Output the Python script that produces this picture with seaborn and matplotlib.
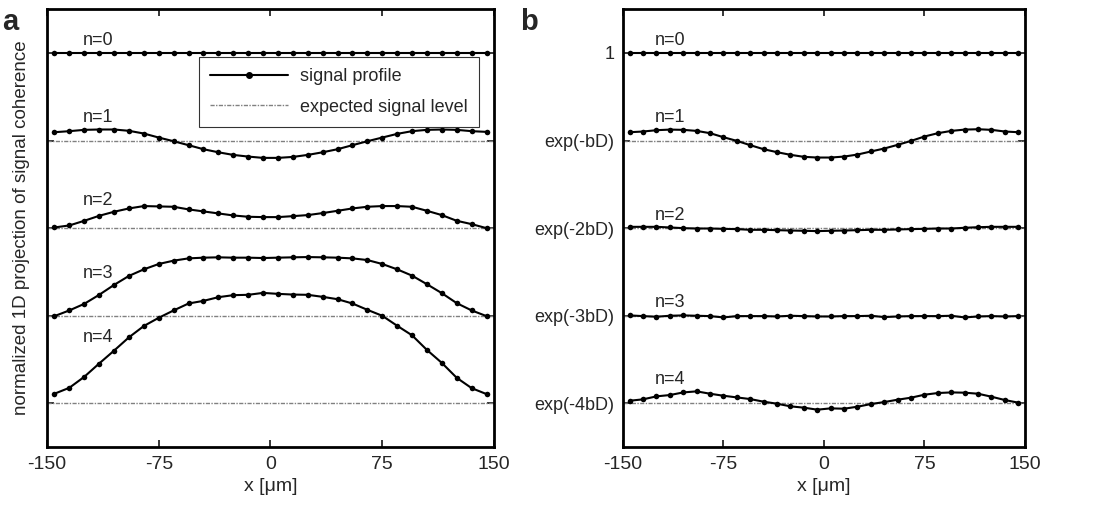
import numpy as np
import pandas as pd
import matplotlib
matplotlib.use("Agg")
import matplotlib.pyplot as plt
import seaborn as sns
from matplotlib.lines import Line2D

# sample positions along x [um]
x_um = [-145, -135, -125, -115, -105, -95, -85, -75, -65, -55,
        -45, -35, -25, -15, -5, 5, 15, 25, 35, 45,
        55, 65, 75, 85, 95, 105, 115, 125, 135, 145]

# deviation from expected level (in units of level spacing), panel a
a_n0 = [0.0, 0.0, 0.0, 0.0, 0.0, 0.0, 0.0, 0.0, 0.0, 0.0,
        0.0, 0.0, 0.0, 0.0, 0.0, 0.0, 0.0, 0.0, 0.0, 0.0,
        0.0, 0.0, 0.0, 0.0, 0.0, 0.0, 0.0, 0.0, 0.0, 0.0]
a_n1 = [0.095, 0.107, 0.122, 0.126, 0.126, 0.111, 0.080, 0.034, -0.008, -0.053,
        -0.099, -0.134, -0.164, -0.183, -0.198, -0.198, -0.187, -0.164, -0.134, -0.099,
        -0.053, -0.008, 0.034, 0.076, 0.107, 0.122, 0.126, 0.122, 0.107, 0.099]
a_n2 = [0.008, 0.031, 0.084, 0.141, 0.187, 0.225, 0.252, 0.248, 0.244, 0.214,
        0.191, 0.168, 0.145, 0.130, 0.126, 0.126, 0.137, 0.149, 0.172, 0.198,
        0.225, 0.244, 0.252, 0.252, 0.244, 0.198, 0.149, 0.084, 0.046, 0.0]
a_n3 = [-0.004, 0.061, 0.136, 0.239, 0.352, 0.455, 0.530, 0.591, 0.629, 0.655,
        0.663, 0.667, 0.663, 0.663, 0.659, 0.663, 0.667, 0.670, 0.667, 0.663,
        0.655, 0.636, 0.591, 0.530, 0.458, 0.360, 0.258, 0.144, 0.061, -0.004]
a_n4 = [0.110, 0.178, 0.303, 0.455, 0.602, 0.754, 0.883, 0.977, 1.061, 1.140,
        1.170, 1.212, 1.235, 1.239, 1.261, 1.250, 1.242, 1.239, 1.216, 1.189,
        1.140, 1.068, 1.000, 0.886, 0.777, 0.610, 0.462, 0.292, 0.174, 0.106]

# panel b
b_n0 = [0.0, 0.0, 0.0, 0.0, 0.0, 0.0, 0.0, 0.0, 0.0, 0.0,
        0.0, 0.0, 0.0, 0.0, 0.0, 0.0, 0.0, 0.0, 0.0, 0.0,
        0.0, 0.0, 0.0, 0.0, 0.0, 0.0, 0.0, 0.0, 0.0, 0.0]
b_n1 = [0.095, 0.103, 0.118, 0.125, 0.122, 0.110, 0.084, 0.038, -0.004, -0.053,
        -0.099, -0.133, -0.163, -0.186, -0.194, -0.194, -0.183, -0.160, -0.125, -0.091,
        -0.049, -0.004, 0.046, 0.084, 0.110, 0.125, 0.129, 0.122, 0.103, 0.095]
b_n2 = [0.015, 0.015, 0.015, 0.008, 0.0, -0.004, -0.004, -0.008, -0.011, -0.019,
        -0.019, -0.023, -0.027, -0.030, -0.034, -0.030, -0.027, -0.023, -0.019, -0.019,
        -0.015, -0.011, -0.008, -0.004, -0.004, 0.004, 0.011, 0.015, 0.015, 0.015]
b_n3 = [0.004, -0.004, -0.011, 0.0, 0.004, 0.0, -0.004, -0.019, -0.004, -0.004,
        -0.004, -0.008, 0.0, -0.004, -0.008, -0.008, -0.004, -0.004, 0.0, -0.015,
        -0.008, -0.004, -0.004, -0.004, 0.0, -0.019, -0.008, -0.004, -0.008, -0.004]
b_n4 = [0.030, 0.046, 0.080, 0.095, 0.125, 0.137, 0.110, 0.087, 0.068, 0.049,
        0.019, -0.004, -0.034, -0.049, -0.072, -0.057, -0.061, -0.038, -0.008, 0.015,
        0.042, 0.065, 0.099, 0.118, 0.125, 0.122, 0.110, 0.076, 0.038, 0.008]

levels = [0, -1, -2, -3, -4]
level_labels_b = ["1", "exp(-bD)", "exp(-2bD)", "exp(-3bD)", "exp(-4bD)"]
curve_names = ["n=0", "n=1", "n=2", "n=3", "n=4"]
x_ticks = [-150, -75, 0, 75, 150]

# label placement (x, bottom y) for the n=.. text
lab_pos_a = [(-116, 0.045), (-116, -0.83), (-116, -1.78), (-116, -2.61), (-116, -3.35)]
lab_pos_b = [(-115, 0.045), (-115, -0.83), (-115, -1.95), (-115, -2.95), (-115, -3.83)]

sns.set_style("ticks")
plt.rcParams['font.family'] = ['Liberation Sans', 'DejaVu Sans']

fig = plt.figure(figsize=(10.96, 5.07), dpi=100)
ax_a = fig.add_axes([0.0429, 0.118, 0.4078, 0.864])
ax_b = fig.add_axes([0.5684, 0.118, 0.3668, 0.864])

dot_style = (0, (3, 1, 1, 1))


def draw_panel(ax, curves, lab_pos):
    for lev in levels[1:]:
        ax.axhline(lev, color="#808080", lw=1.0, ls=dot_style, zorder=1)
    for i, dev in enumerate(curves):
        df = pd.DataFrame({"x": x_um, "y": np.array(dev) + levels[i]})
        sns.lineplot(data=df, x="x", y="y", ax=ax, color="black", lw=1.5,
                     marker="o", markersize=4, markeredgewidth=0,
                     estimator=None, sort=False, zorder=3)
        ax.text(lab_pos[i][0], lab_pos[i][1], curve_names[i], fontsize=13,
                ha="center", va="bottom")
    ax.set_xlim(-150, 150)
    ax.set_ylim(-4.5, 0.5)
    ax.set_xticks(x_ticks)
    ax.set_xticklabels([str(t) for t in x_ticks])
    ax.set_yticks(levels)
    ax.set_xlabel("x [\u03bcm]", fontsize=14, labelpad=4)
    ax.set_ylabel("")
    ax.tick_params(direction="in", top=True, right=True, length=5, width=1.3,
                   labelsize=14, pad=6)
    for sp in ax.spines.values():
        sp.set_linewidth(2)
        sp.set_color("black")


draw_panel(ax_a, [a_n0, a_n1, a_n2, a_n3, a_n4], lab_pos_a)
draw_panel(ax_b, [b_n0, b_n1, b_n2, b_n3, b_n4], lab_pos_b)

ax_a.set_yticklabels([])
ax_a.set_ylabel("normalized 1D projection of signal coherence", fontsize=13.5, labelpad=6)
ax_b.set_yticklabels(level_labels_b)
ax_b.tick_params(axis="y", labelsize=13)

# legend for panel a
handles = [Line2D([], [], color="black", lw=1.5, marker="o", markersize=4,
                  markevery=[1]),
           Line2D([], [], color="#808080", lw=1.0, ls=dot_style)]
leg = ax_a.legend(handles, ["signal profile", "expected signal level"],
                  loc="upper right", bbox_to_anchor=(0.966, 0.890), fontsize=13,
                  frameon=True, fancybox=False, edgecolor="black",
                  handlelength=4.3, handletextpad=0.7, borderpad=0.6,
                  labelspacing=0.75, borderaxespad=0)
leg.get_frame().set_linewidth(0.8)

fig.text(0.002, 0.985, "a", fontsize=21, fontweight="bold", va="top")
fig.text(0.475, 0.985, "b", fontsize=21, fontweight="bold", va="top")

fig.savefig("out.png", dpi=100)
